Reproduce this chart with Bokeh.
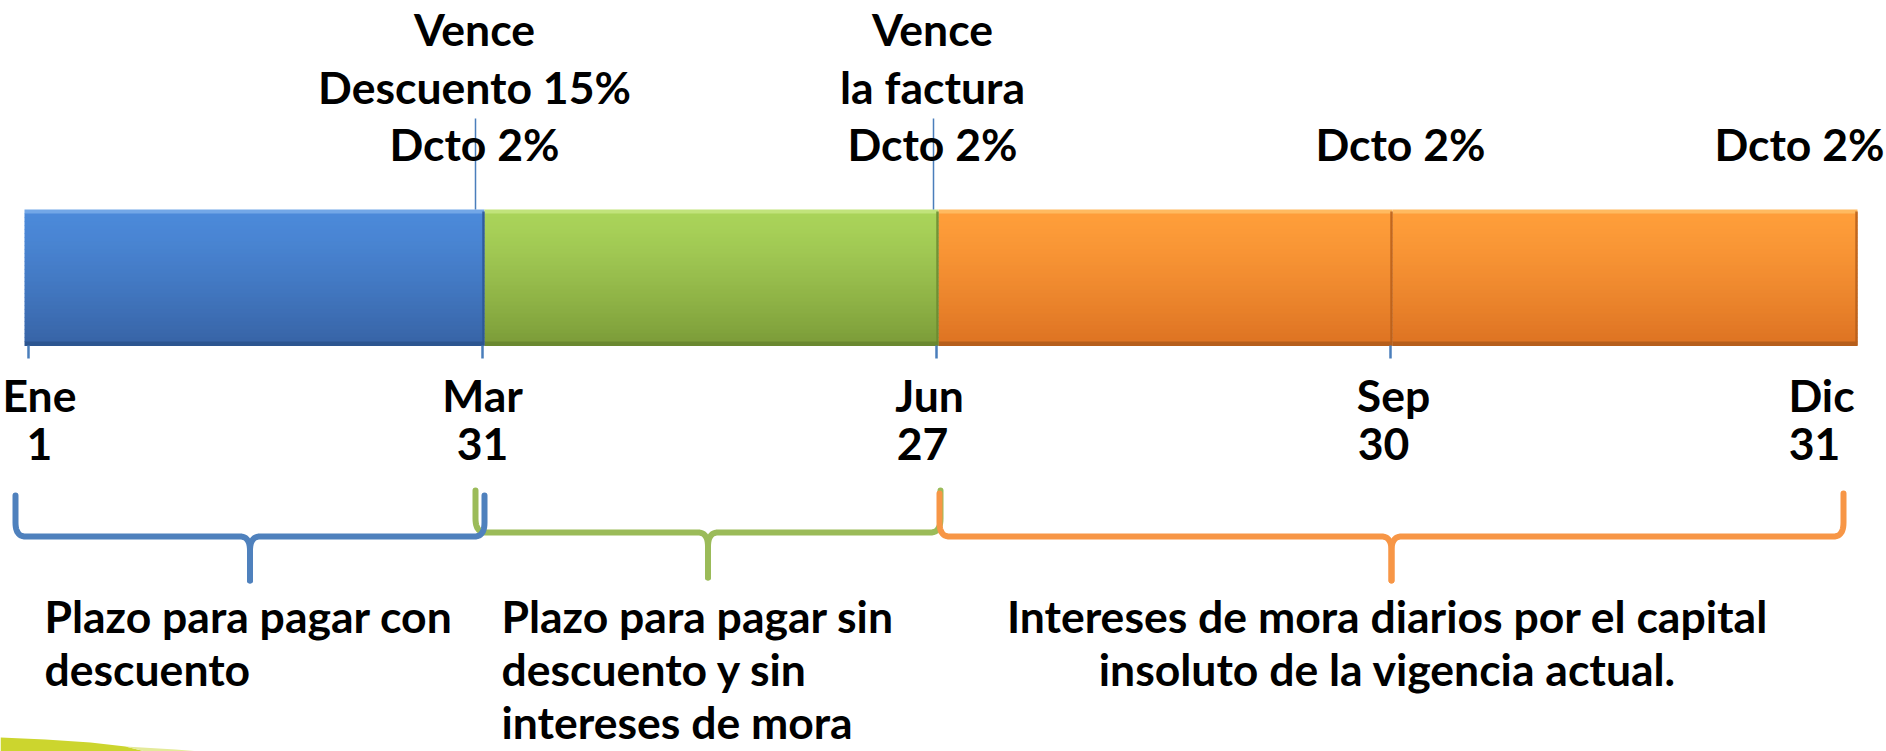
import numpy as np
from bokeh.plotting import figure
from bokeh.models import Range1d, ColumnDataSource
from bokeh.core.properties import value
from bokeh.embed import file_html
from bokeh.resources import INLINE

# ---------------- data ----------------
tick_months = ["Ene", "Mar", "Jun", "Sep", "Dic"]
tick_days = ["1", "31", "27", "30", "31"]

seg_start = [0, 1, 2, 3]
seg_end = [1, 2, 3, 4]
seg_kind = ["blue", "green", "orange", "orange"]

tick_mark_idx = [0, 1, 2, 3]
vence_idx = [1, 2]

top_idx = [1, 2, 3, 4]
top_lines = [
    ["Vence", "Descuento 15%", "Dcto 2%"],
    ["Vence", "la factura", "Dcto 2%"],
    ["Dcto 2%"],
    ["Dcto 2%"],
]

brace_start = [0, 1, 2]
brace_end = [1, 2, 4]
brace_kind = ["blue", "green", "orange"]
brace_lines = [
    ["Plazo para pagar con", "descuento"],
    ["Plazo para pagar sin", "descuento y sin", "intereses de mora"],
    ["Intereses de mora diarios por el capital", "insoluto de la vigencia actual."],
]

# ---------------- layout / style ----------------
W, H = 1886, 751
X0_PX = 28.0
PX_PER = 454.0
FONT = "Lato"
FSIZE = "44.5px"

def ix2px(i):
    return X0_PX + PX_PER * i

def px2x(px):
    return (px - X0_PX) / PX_PER

BAR_TOP, BAR_BOT = 209.0, 345.0

pal = {
    "blue":   dict(top="#4C8ADA", bot="#3763A5", hi="#86B5EE", edge="#2C5590", brace="#4F81BD"),
    "green":  dict(top="#AAD45A", bot="#7B9B38", hi="#CDEA8C", edge="#6A8830", brace="#9BBB59"),
    "orange": dict(top="#FF9E3A", bot="#DD7222", hi="#FFC873", edge="#B65E1B", brace="#F79646"),
}

def hex2rgb(h):
    h = h.lstrip("#")
    return np.array([int(h[i:i + 2], 16) for i in (0, 2, 4)], dtype=float)

def mix(a, b, t):
    c = hex2rgb(a) * (1 - t) + hex2rgb(b) * t
    return "#%02x%02x%02x" % tuple(int(round(v)) for v in c)

# the page places the figure at the top-left corner
p = figure(width=W, height=H, output_backend="svg", toolbar_location=None,
           x_range=Range1d(px2x(0), px2x(W)),
           y_range=Range1d(H, 0),
           x_axis_location=None, y_axis_location=None, min_border=0)
p.grid.visible = False
p.outline_line_color = None
p.background_fill_color = "white"
p.border_fill_color = "white"

# ---------------- bar segments (gradient strips) ----------------
n_strips = 34
edges_y = np.linspace(BAR_TOP, BAR_BOT, n_strips + 1)
L, R, T, B, C = [], [], [], [], []
div_x, div_c = [], []
for k, (s, e, kind) in enumerate(zip(seg_start, seg_end, seg_kind)):
    c = pal[kind]
    lpx = ix2px(s) + (-4 if k == 0 else 2)
    rpx = ix2px(e) + (13 if k == len(seg_start) - 1 else 2)
    for j in range(n_strips):
        yc = 0.5 * (edges_y[j] + edges_y[j + 1])
        t = (yc - BAR_TOP) / (BAR_BOT - BAR_TOP)
        if yc - BAR_TOP < 6:
            col = mix(c["hi"], c["top"], (yc - BAR_TOP) / 6)
        elif BAR_BOT - yc < 4:
            col = c["edge"]
        else:
            col = mix(c["top"], c["bot"], t ** 1.3)
        L.append(px2x(lpx)); R.append(px2x(rpx))
        T.append(edges_y[j]); B.append(edges_y[j + 1] + 0.4)
        C.append(col)
    div_x.append(px2x(rpx - 1)); div_c.append(c["edge"])

p.quad(left=L, right=R, top=T, bottom=B, fill_color=C, line_color=None)
p.segment(x0=div_x, x1=div_x, y0=[BAR_TOP + 2] * len(div_x), y1=[BAR_BOT] * len(div_x),
          line_color=div_c, line_width=2.5, line_alpha=0.85)

# ---------------- tick marks below bar ----------------
tx = [px2x(ix2px(i)) for i in tick_mark_idx]
p.segment(x0=tx, x1=tx, y0=[BAR_BOT] * len(tx), y1=[BAR_BOT + 13] * len(tx),
          line_color="#4A7EBB", line_width=2.5)

# ---------------- "Vence" marker lines above bar ----------------
vence_dx = [-7, -3]
vx = [px2x(ix2px(i) + d) for i, d in zip(vence_idx, vence_dx)]
p.segment(x0=vx, x1=vx, y0=[118] * len(vx), y1=[BAR_TOP] * len(vx),
          line_color="#4A7EBB", line_width=1.5)

# ---------------- texts ----------------
def add_text(xs, ys, txt, offs, align):
    src = ColumnDataSource(dict(x=xs, y=ys, text=txt, xo=offs))
    p.text(x="x", y="y", text="text", x_offset="xo", source=src,
           text_font=value(FONT), text_font_style="bold", text_font_size=FSIZE,
           text_color="black", text_align=align, text_baseline="middle")

# top labels
top_dx = [-8, -4, 10, -45]
TOP_LAST_Y, TOP_STEP = 143, 57.5
xs, ys, tt, oo = [], [], [], []
for i, lines, d in zip(top_idx, top_lines, top_dx):
    n = len(lines)
    for k, line in enumerate(lines):
        xs.append(i); ys.append(TOP_LAST_Y - (n - 1 - k) * TOP_STEP)
        tt.append(line); oo.append(d)
add_text(xs, ys, tt, oo, "center")

# tick labels
month_dx = [11, 0, -7, 3, -23]
day_dx = [11, 0, -14, -7, -30]
idxs = list(range(len(tick_months)))
add_text(idxs, [394] * len(idxs), tick_months, month_dx, "center")
add_text(idxs, [443] * len(idxs), tick_days, day_dx, "center")

# ---------------- braces ----------------
br_pad_l = [-13, -7, 3]
br_pad_r = [2, 4, -1]
br_top = [495, 490, 493]
br_h = [536, 532, 536]
br_bot = [580, 577, 580]
RX, RY = 10.0, 14.0

def qcurve(p0, p1, p2, n=12):
    t = np.linspace(0, 1, n)[:, None]
    pts = (1 - t) ** 2 * np.array(p0) + 2 * (1 - t) * t * np.array(p1) + t ** 2 * np.array(p2)
    return pts

def half(xa, xm, yt, yh, yb, d):
    pts = [np.array([[xa, yt]])]
    pts.append(qcurve((xa, yh - RY), (xa, yh), (xa + d * RX, yh)))
    pts.append(qcurve((xm - d * RX, yh), (xm, yh), (xm, yh + RY)))
    pts.append(np.array([[xm, yb]]))
    pts = np.vstack(pts)
    return [px2x(v) for v in pts[:, 0]], list(pts[:, 1])

order = [1, 0, 2]  # green under blue, orange on top
for b in order:
    x0 = ix2px(brace_start[b]) + br_pad_l[b]
    x1 = ix2px(brace_end[b]) + br_pad_r[b]
    xm = 0.5 * (x0 + x1)
    col = pal[brace_kind[b]]["brace"]
    for xa, d in ((x0, 1), (x1, -1)):
        hx, hy = half(xa, xm, br_top[b], br_h[b], br_bot[b], d)
        p.line(hx, hy, line_color=col, line_width=6, line_cap="round", line_join="round")

# brace texts
BR_TXT_Y, BR_TXT_STEP = 615, 53
br_align = ["left", "left", "center"]
br_txt_dx = [29, 26, -4]
for b in range(len(brace_lines)):
    x0 = ix2px(brace_start[b]) + br_pad_l[b]
    x1 = ix2px(brace_end[b]) + br_pad_r[b]
    anchor = x0 if br_align[b] == "left" else 0.5 * (x0 + x1)
    lines = brace_lines[b]
    add_text([px2x(anchor)] * len(lines),
             [BR_TXT_Y + k * BR_TXT_STEP for k in range(len(lines))],
             lines, [br_txt_dx[b]] * len(lines), br_align[b])

# ---------------- decorative swoosh (bottom-left) ----------------
sw_px = [0, 45, 90, 125, 145, 0]
sw_py = [737, 739, 742, 746, 751, 751]
p.patch([px2x(v) for v in sw_px], sw_py, fill_color="#CCD52E", line_color=None)
sw2_px = [125, 175, 200, 145]
sw2_py = [746, 749, 751, 751]
p.patch([px2x(v) for v in sw2_px], sw2_py, fill_color="#E4EA9A", line_color=None)

open("out.html", "w").write(file_html(p, INLINE))
